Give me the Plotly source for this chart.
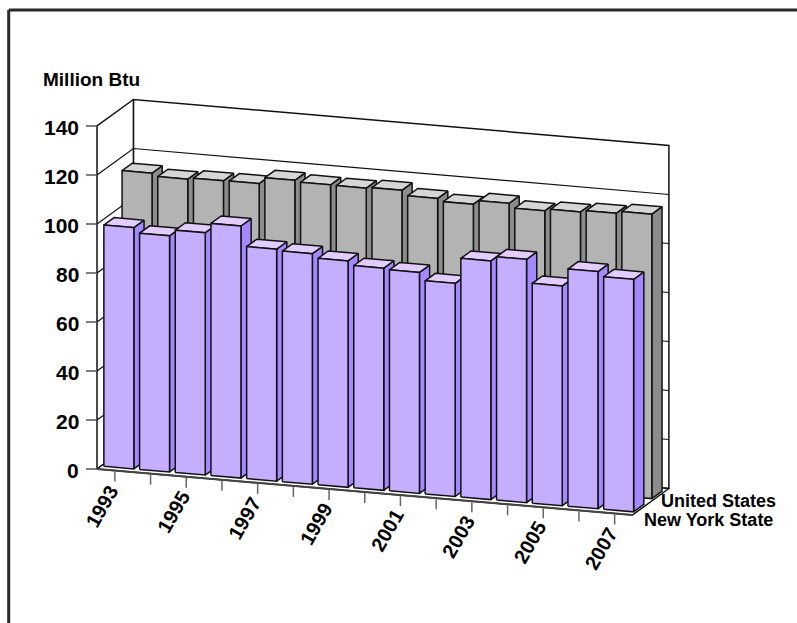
import plotly.graph_objects as go

# Annual values, million Btu
years = list(range(1993, 2008))
new_york = [98.5, 96.4, 98.9, 102.9, 94.7, 94.1, 92.4, 90.7, 90.2, 87.0, 97.4, 99.3, 89.7, 96.8, 94.9]
united_states = [115.3, 114.1, 114.7, 114.8, 117.4, 116.8, 116.7, 117.1, 115.0, 113.9, 115.5, 113.7, 114.5, 115.2, 116.1]
value_ticks = [0, 20, 40, 60, 80, 100, 120, 140]
series_names = ["United States", "New York State"]

FONT = "Liberation Sans"
INK = "#111111"

# Oblique projection of the box: category runs along the floor, depth runs into the page
ORIGIN = (97.0, 469.0)
CATEGORY_STEP = (535.5 / 15, 46.0 / 15)
DEPTH_VEC = (36.4, -26.5)
PX_PER_UNIT = 343.0 / 140


def project(cat, depth, value):
    px = ORIGIN[0] + cat * CATEGORY_STEP[0] + depth * DEPTH_VEC[0]
    py = ORIGIN[1] + cat * CATEGORY_STEP[1] + depth * DEPTH_VEC[1] - value * PX_PER_UNIT
    return px, py


fig = go.Figure()


def polygon(points, fill=None, line=INK, width=1.5):
    xs = [p[0] for p in points]
    ys = [p[1] for p in points]
    if fill:
        xs.append(xs[0])
        ys.append(ys[0])
    fig.add_trace(go.Scatter(
        x=xs, y=ys, mode="lines",
        fill="toself" if fill else "none",
        fillcolor=fill,
        line=dict(color=line, width=width),
        hoverinfo="skip", showlegend=False,
    ))


n = len(years)
top = value_ticks[-1]

# Walls and floor of the box
polygon([project(0, 1, 0), project(n, 1, 0), project(n, 1, top), project(0, 1, top)], fill="#ffffff")
polygon([project(0, 0, 0), project(0, 1, 0), project(0, 1, top), project(0, 0, top)], fill="#ffffff")
polygon([project(0, 0, 0), project(n, 0, 0), project(n, 1, 0), project(0, 1, 0)], fill="#ffffff")
polygon([project(0, 0, 0), project(n, 0, 0)], line="#444444", width=2)

# Gridlines wrap the left and back walls
for v in value_ticks[1:-1]:
    polygon([project(0, 0, v), project(0, 1, v), project(n, 1, v)], width=1.2)

# Axis ticks
for v in value_ticks:
    x0, y0 = project(0, 0, v)
    polygon([(x0 - 11, y0), (x0, y0)], line="#555555", width=1.5)
for i in range(n):
    x0, y0 = project(i + 0.5, 0, 0)
    polygon([(x0, y0 + 1), (x0, y0 + 11)], line="#666666", width=1.5)


def bars(values, d0, d1, front, side, cap):
    c0, c1 = 0.08, 0.92
    for i, v in enumerate(values):
        a, b = i + c0, i + c1
        polygon([project(b, d0, 0), project(b, d1, 0), project(b, d1, v), project(b, d0, v)], fill=side)
        polygon([project(a, d0, v), project(b, d0, v), project(b, d1, v), project(a, d1, v)], fill=cap)
        polygon([project(a, d0, 0), project(b, d0, 0), project(b, d0, v), project(a, d0, v)], fill=front)


bars(united_states, 0.61, 0.89, "#b3b3b3", "#8c8c8c", "#d6d6d6")
bars(new_york, 0.11, 0.39, "#c5aeff", "#a488ff", "#e3ccff")

annotations = []


def label(text, x, y, size, xanchor="center", angle=0):
    annotations.append(dict(
        text=text, x=x, y=y, xref="x", yref="y", showarrow=False,
        xanchor=xanchor, yanchor="middle", textangle=angle,
        font=dict(family=FONT, size=size, color="#000000", weight=700),
    ))


for v in value_ticks:
    x0, y0 = project(0, 0, v)
    label(str(v), x0 - 16, y0 + 1, 21, xanchor="right")

for i, year in enumerate(years):
    if year % 2 == 1:
        x0, y0 = project(i + 0.5, 0, 0)
        label(str(year), x0 - 13, y0 + 35, 20, angle=-60)

label("Million Btu", 41, 79, 19, xanchor="left")
label(series_names[0], 777.5, 501, 18, xanchor="right")
label(series_names[1], 774.5, 520, 18, xanchor="right")

# Page frame open on the right and bottom
frame = [
    dict(type="line", xref="x", yref="y", x0=8.7, x1=797, y0=10, y1=10, line=dict(color="#2a2a2a", width=3)),
    dict(type="line", xref="x", yref="y", x0=8.7, x1=8.7, y0=10, y1=623, line=dict(color="#2a2a2a", width=3)),
]

fig.update_layout(
    width=797, height=623,
    margin=dict(l=0, r=0, t=0, b=0),
    paper_bgcolor="#ffffff", plot_bgcolor="#ffffff",
    xaxis=dict(range=[0, 797], visible=False, fixedrange=True),
    yaxis=dict(range=[623, 0], visible=False, fixedrange=True),
    annotations=annotations, shapes=frame, showlegend=False,
)

fig.write_html("out.html")
